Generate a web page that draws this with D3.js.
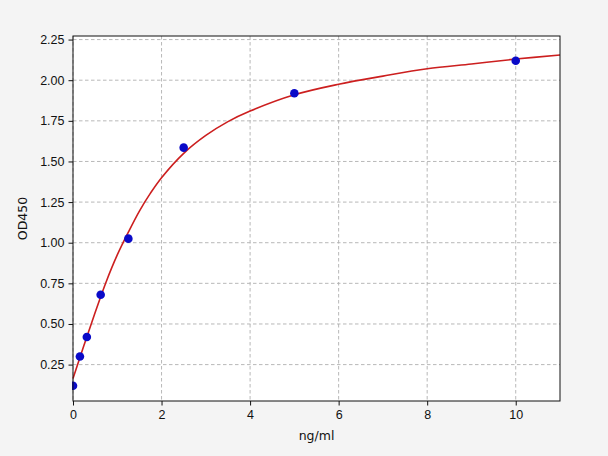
<!DOCTYPE html>
<html>
<head>
<meta charset="utf-8">
<script src="https://cdn.jsdelivr.net/npm/d3@7"></script>
<style>
  body { margin: 0; background: #f4f4f4; }
  svg { display: block; font-family: "DejaVu Sans", sans-serif; }
  .grid line { stroke: #b0b0b0; stroke-dasharray: 3.5,2.5; stroke-width: 0.9; }
  .axis text { font-size: 12.5px; fill: #111; }
  .axis path, .axis line { stroke: #111; }
</style>
</head>
<body>
<svg width="608" height="456"></svg>
<script>
// standard points
var conc = [0, 0.156, 0.3125, 0.625, 1.25, 2.5, 5, 10];
var od = [0.12, 0.30, 0.42, 0.68, 1.025, 1.585, 1.92, 2.12];

// fitted curve
var curveX = [0, 0.25, 0.5, 0.75, 1.0, 1.25, 1.5, 1.75, 2.0, 2.5, 3, 3.5, 4, 5, 6, 7, 8, 9, 10, 11];
var curveY = [0.165, 0.37, 0.57, 0.76, 0.925, 1.065, 1.195, 1.305, 1.40, 1.55, 1.66, 1.745, 1.81, 1.91, 1.975, 2.025, 2.07, 2.10, 2.13, 2.155];

var xTicks = [0, 2, 4, 6, 8, 10];
var yTicks = [0.25, 0.50, 0.75, 1.00, 1.25, 1.50, 1.75, 2.00, 2.25];

var svg = d3.select("svg");
var margin = {left: 73, top: 36, right: 48, bottom: 55};
var w = 608 - margin.left - margin.right;
var h = 456 - margin.top - margin.bottom;

var x = d3.scaleLinear().domain([0, 11]).range([0, w]);
var y = d3.scaleLinear().domain([0.026, 2.272]).range([h, 0]);

var g = svg.append("g").attr("transform", "translate(" + margin.left + "," + margin.top + ")");

g.append("rect").attr("width", w).attr("height", h).attr("fill", "#fff");

// grid
g.append("g").attr("class", "grid")
  .selectAll("line").data(xTicks).enter().append("line")
    .attr("x1", d => x(d)).attr("x2", d => x(d))
    .attr("y1", 0).attr("y2", h);
g.append("g").attr("class", "grid")
  .selectAll("line").data(yTicks).enter().append("line")
    .attr("y1", d => y(d)).attr("y2", d => y(d))
    .attr("x1", 0).attr("x2", w);

// curve
var line = d3.line()
  .x(d => x(d[0]))
  .y(d => y(d[1]))
  .curve(d3.curveCatmullRom.alpha(0.5));
g.append("path")
  .datum(d3.zip(curveX, curveY))
  .attr("d", line)
  .attr("fill", "none")
  .attr("stroke", "#cc1f1f")
  .attr("stroke-width", 1.6);

// points
g.append("clipPath").attr("id", "clip")
  .append("rect").attr("x", -1).attr("width", w + 2).attr("height", h);
g.append("g").attr("clip-path", "url(#clip)")
  .selectAll("circle").data(d3.zip(conc, od)).enter().append("circle")
    .attr("cx", d => x(d[0]))
    .attr("cy", d => y(d[1]))
    .attr("r", 4.3)
    .attr("fill", "#0a0ac8");

// frame
g.append("rect").attr("width", w).attr("height", h)
  .attr("fill", "none").attr("stroke", "#111").attr("stroke-width", 1);

// axes
g.append("g").attr("class", "axis")
  .attr("transform", "translate(0," + h + ")")
  .call(d3.axisBottom(x).tickValues(xTicks).tickSize(4.5).tickPadding(5).tickFormat(d3.format("d")))
  .call(a => a.select(".domain").remove());
g.append("g").attr("class", "axis")
  .call(d3.axisLeft(y).tickValues(yTicks).tickSize(4.5).tickPadding(4).tickFormat(d3.format(".2f")))
  .call(a => a.select(".domain").remove());

// labels
svg.append("text")
  .attr("x", margin.left + w / 2).attr("y", 440)
  .attr("text-anchor", "middle")
  .style("font-size", "12.5px").attr("fill", "#111")
  .text("ng/ml");
svg.append("text")
  .attr("transform", "translate(27," + (margin.top + h / 2) + ") rotate(-90)")
  .attr("text-anchor", "middle")
  .style("font-size", "12.5px").attr("fill", "#111")
  .text("OD450");
</script>
</body>
</html>
